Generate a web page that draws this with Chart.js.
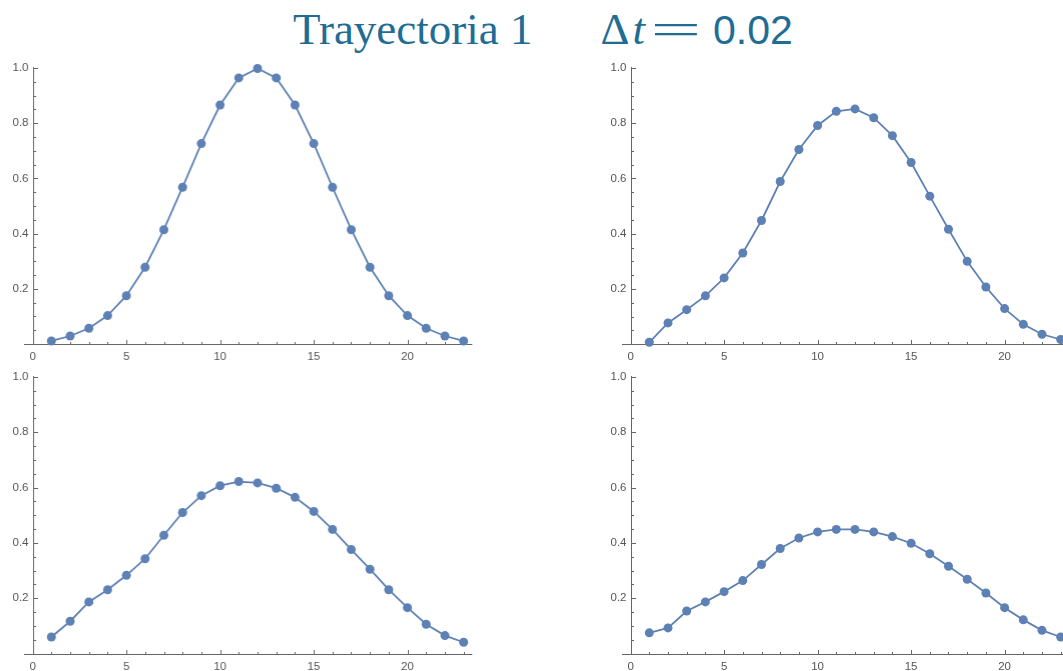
<!DOCTYPE html>
<html>
<head>
<meta charset="utf-8">
<script src="https://cdn.jsdelivr.net/npm/chart.js@4.4.1/dist/chart.umd.min.js"></script>
<style>
html, body { margin: 0; padding: 0; background: #fff; overflow: hidden; }
body { width: 1063px; height: 671px; position: relative; }
.panel { position: absolute; }
#title {
  position: absolute; left: 293px; top: 7px;
  font-family: "Liberation Serif", "DejaVu Serif", serif;
  font-size: 45px; line-height: 1; color: #1f6d94; white-space: nowrap;
}
#title .delta { margin-left: 68px; }
#title .tvar { font-style: italic; margin-left: 3px; }
#title .eq { display: inline-block; width: 50px; margin-left: 6px; text-align: center; transform: scaleX(2); }
#title .num { font-family: "Liberation Sans", Arial, sans-serif; font-size: 41px; margin-left: 12px; }
</style>
</head>
<body>
<div id="title"><span>Trayectoria 1</span><span class="delta">Δ</span><span class="tvar">t</span><span class="eq">=</span><span class="num">0.02</span></div>

<div class="panel" id="p1"><canvas id="c1"></canvas></div>
<div class="panel" id="p2"><canvas id="c2"></canvas></div>
<div class="panel" id="p3"><canvas id="c3"></canvas></div>
<div class="panel" id="p4"><canvas id="c4"></canvas></div>

<script>
// data
const steps = [1, 2, 3, 4, 5, 6, 7, 8, 9, 10, 11, 12, 13, 14, 15, 16, 17, 18, 19, 20, 21, 22, 23];

const panelTopLeft = [0.011, 0.029, 0.057, 0.103, 0.175, 0.278, 0.414, 0.568, 0.726, 0.866, 0.964, 0.998,
  0.964, 0.866, 0.726, 0.568, 0.414, 0.278, 0.175, 0.103, 0.057, 0.029, 0.011];
const panelTopRight = [0.007, 0.077, 0.125, 0.175, 0.240, 0.330, 0.448, 0.589, 0.705, 0.792, 0.843, 0.852,
  0.820, 0.755, 0.658, 0.536, 0.416, 0.300, 0.207, 0.129, 0.072, 0.036, 0.017];
const panelBottomLeft = [0.060, 0.117, 0.187, 0.231, 0.283, 0.343, 0.428, 0.510, 0.571, 0.607, 0.622, 0.617,
  0.598, 0.565, 0.514, 0.449, 0.376, 0.305, 0.231, 0.166, 0.106, 0.065, 0.041];
const panelBottomRight = [0.075, 0.093, 0.154, 0.187, 0.224, 0.264, 0.322, 0.380, 0.418, 0.440, 0.449, 0.449,
  0.440, 0.423, 0.399, 0.361, 0.316, 0.269, 0.219, 0.166, 0.122, 0.084, 0.060];

const xTickLabels = [0, 5, 10, 15, 20];
const yTickLabels = ['0.2', '0.4', '0.6', '0.8', '1.0'];
const xMinorStep = 1;
const yMinorStep = 0.05;

const lineColor = '#5e81b5';
const axisColor = '#666666';
const labelColor = '#555555';

// Mathematica-like axes: drawn at x=0 / y=0, ticks pointing inwards
const mmaAxes = {
  id: 'mmaAxes',
  beforeDatasetsDraw(chart) {
    const ctx = chart.ctx;
    const x = chart.scales.x, y = chart.scales.y;
    const x0 = Math.round(x.getPixelForValue(0)) + 0.5;
    const y0 = Math.round(y.getPixelForValue(0)) + 0.5;
    ctx.save();
    ctx.strokeStyle = axisColor;
    ctx.lineWidth = 1;
    ctx.beginPath();
    ctx.moveTo(x.left, y0); ctx.lineTo(x.right, y0);
    ctx.moveTo(x0, y0); ctx.lineTo(x0, y.getPixelForValue(y.max) - 1);
    // x ticks
    for (let v = xMinorStep; v <= x.max; v += xMinorStep) {
      const px = Math.round(x.getPixelForValue(v)) + 0.5;
      const len = xTickLabels.includes(v) ? 4.5 : 2.5;
      ctx.moveTo(px, y0); ctx.lineTo(px, y0 - len);
    }
    // y ticks
    for (let k = 1; k * yMinorStep <= y.max + 1e-9; k++) {
      const v = k * yMinorStep;
      const py = Math.round(y.getPixelForValue(v)) + 0.5;
      const len = (k % 4 === 0) ? 4.5 : 2.5;
      ctx.moveTo(x0, py); ctx.lineTo(x0 + len, py);
    }
    ctx.stroke();

    ctx.fillStyle = labelColor;
    ctx.font = '11.5px "Liberation Sans", Arial, sans-serif';
    ctx.textAlign = 'center';
    ctx.textBaseline = 'top';
    xTickLabels.forEach(function (v) {
      ctx.fillText(String(v), x.getPixelForValue(v), y0 + 7);
    });
    ctx.textAlign = 'right';
    ctx.textBaseline = 'middle';
    yTickLabels.forEach(function (t) {
      ctx.fillText(t, x0 - 5, y.getPixelForValue(parseFloat(t)));
    });
    ctx.restore();
  }
};

// page-space plot areas
function makePanel(divId, canvasId, values, area) {
  const padL = 30, padR = 30, padT = 20, padB = 30;
  const div = document.getElementById(divId);
  div.style.left = (area.left - padL) + 'px';
  div.style.top = (area.top - padT) + 'px';
  div.style.width = (area.right - area.left + padL + padR) + 'px';
  div.style.height = (area.bottom - area.top + padT + padB) + 'px';

  new Chart(document.getElementById(canvasId), {
    type: 'line',
    data: {
      datasets: [{
        data: steps.map(function (s, i) { return { x: s, y: values[i] }; }),
        borderColor: lineColor,
        backgroundColor: lineColor,
        borderWidth: 1.8,
        pointRadius: 4.5,
        pointBorderWidth: 0,
        pointBackgroundColor: lineColor,
        tension: 0,
        clip: false
      }]
    },
    options: {
      responsive: true,
      maintainAspectRatio: false,
      animation: false,
      events: [],
      layout: { padding: { left: padL, right: padR, top: padT, bottom: padB } },
      plugins: { legend: { display: false }, tooltip: { enabled: false } },
      scales: {
        x: { type: 'linear', min: -0.46, max: 23.46, display: false },
        y: { type: 'linear', min: 0, max: 1, display: false }
      }
    },
    plugins: [mmaAxes]
  });
}

makePanel('p1', 'c1', panelTopLeft, { left: 24.4, right: 471.7, top: 68.3, bottom: 344.3 });
makePanel('p2', 'c2', panelTopRight, { left: 622, right: 1069.3, top: 67.8, bottom: 344 });
makePanel('p3', 'c3', panelBottomLeft, { left: 24.4, right: 471.7, top: 376.7, bottom: 653.3 });
makePanel('p4', 'c4', panelBottomRight, { left: 622, right: 1069.3, top: 376.7, bottom: 653.3 });
</script>
</body>
</html>
